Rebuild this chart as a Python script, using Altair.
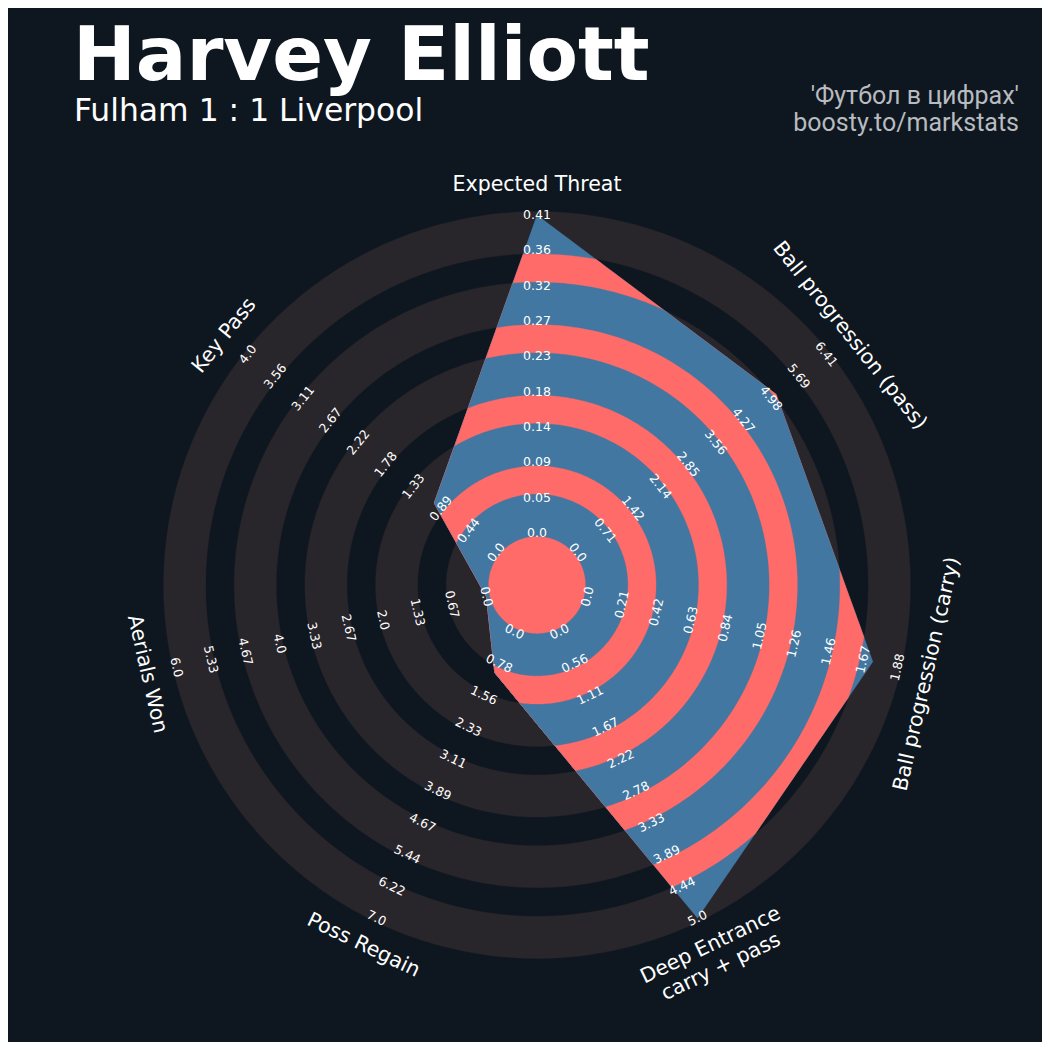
import math
import numpy as np
import pandas as pd
import altair as alt

# ---------------- data ----------------
params = ["Expected Threat", "Ball progression (pass)", "Ball progression (carry)",
          "Deep Entrance\ncarry + pass", "Poss Regain", "Aerials Won", "Key Pass"]
low = [0.0, 0.0, 0.0, 0.0, 0.0, 0.0, 0.0]
high = [0.41, 6.41, 1.88, 5.0, 7.0, 6.0, 4.0]
values = [0.41, 5.12, 1.73, 5.0, 1.0, 0.0, 1.0]

labels_xt = ["0.0", "0.05", "0.09", "0.14", "0.18", "0.23", "0.27", "0.32", "0.36", "0.41"]
labels_pass = ["0.0", "0.71", "1.42", "2.14", "2.85", "3.56", "4.27", "4.98", "5.69", "6.41"]
labels_carry = ["0.0", "0.21", "0.42", "0.63", "0.84", "1.05", "1.26", "1.46", "1.67", "1.88"]
labels_deep = ["0.0", "0.56", "1.11", "1.67", "2.22", "2.78", "3.33", "3.89", "4.44", "5.0"]
labels_regain = ["0.0", "0.78", "1.56", "2.33", "3.11", "3.89", "4.67", "5.44", "6.22", "7.0"]
labels_aerial = ["0.0", "0.67", "1.33", "2.0", "2.67", "3.33", "4.0", "4.67", "5.33", "6.0"]
labels_key = ["0.0", "0.44", "0.89", "1.33", "1.78", "2.22", "2.67", "3.11", "3.56", "4.0"]
ring_labels = [labels_xt, labels_pass, labels_carry, labels_deep,
               labels_regain, labels_aerial, labels_key]

title_text = "Harvey Elliott"
subtitle_text = "Fulham 1 : 1 Liverpool"
credit_line1 = "'Футбол в цифрах'"
credit_line2 = "boosty.to/markstats"

# ---------------- style / geometry ----------------
BG = "#0e1720"
RING = "#28252b"
RED = "#ff6b68"
BLUE = "#4177a0"
TXT = "#ffffff"
CREDIT = "#b8bbbf"

W = H = 1034
PX = 35.33            # pixels per radar unit
CX, CY = 529.0, 577.0  # radar centre inside plot area (pixels)
CENTER_R = 1.47
RING_W = 1.0
N_RINGS = 9
EDGE = 0.1
LABEL_R = CENTER_R + N_RINGS * RING_W + 0.85

xdom = [-CX / PX, (W - CX) / PX]
ydom = [-(H - CY) / PX, CY / PX]

n = len(params)
STEP = 360.0 / n
phi = [STEP * k for k in range(n)]


def xy(r, ang):
    a = math.radians(ang)
    return r * math.sin(a), r * math.cos(a)


rho = [CENTER_R + N_RINGS * RING_W * (v - lo) / (hi - lo)
       for v, lo, hi in zip(values, low, high)]
verts = [xy(r, a) for r, a in zip(rho, phi)]


def cross(a, b):
    return a[0] * b[1] - a[1] * b[0]


def poly_radius(theta):
    theta = theta % 360.0
    k = int(theta // STEP) % n
    P = verts[k]
    Q = verts[(k + 1) % n]
    E = (Q[0] - P[0], Q[1] - P[1])
    d = xy(1.0, theta)
    return cross(P, E) / cross(d, E)


bounds = [CENTER_R + i * RING_W for i in range(N_RINGS + 1)]
disks = []
for i in range(N_RINGS, -1, -1):
    wide = (i % 2 == 1)
    disks.append((bounds[i] + EDGE if wide else bounds[i] - EDGE, wide))

rows = []
layer_colors = []
sid = 0
circle_thetas = np.arange(0.0, 360.0, 1.0)
for R, wide in disks:
    for j, t in enumerate(circle_thetas):
        x, y = xy(R, float(t))
        rows.append((sid, j, round(x, 4), round(y, 4)))
    layer_colors.append(RING if wide else BG)
    sid += 1

base_thetas = sorted(set([round(float(t), 6) for t in np.arange(0.0, 360.0, 1.0)] +
                         [round(a, 6) for a in phi]))
for R, wide in disks:
    th = []
    nxt = base_thetas[1:] + [360.0]
    for a, b in zip(base_thetas, nxt):
        th.append(a)
        fa = poly_radius(a) - R
        fb = poly_radius(b) - R
        if fa * fb < 0:
            lo_, hi_ = a, b
            for _ in range(40):
                m = 0.5 * (lo_ + hi_)
                fm = poly_radius(m) - R
                if (fm > 0) == (fa > 0):
                    lo_ = m
                else:
                    hi_ = m
            th.append(0.5 * (lo_ + hi_))
    for j, t in enumerate(th):
        r = min(R, poly_radius(t))
        x, y = xy(r, t)
        rows.append((sid, j, round(x, 4), round(y, 4)))
    layer_colors.append(BLUE if wide else RED)
    sid += 1

shapes = pd.DataFrame(rows, columns=["s", "i", "x", "y"])

X = alt.X("x:Q", scale=alt.Scale(domain=xdom, nice=False, zero=False), axis=None)
Y = alt.Y("y:Q", scale=alt.Scale(domain=ydom, nice=False, zero=False), axis=None)

base = alt.Chart(shapes)
layers = []
for s, col in enumerate(layer_colors):
    layers.append(
        base.transform_filter(alt.datum.s == s)
        .mark_line(interpolate="linear-closed", fill=col, stroke=col, strokeWidth=0.3)
        .encode(x=X, y=Y, order="i:Q")
    )

# ring labels
lab_rows = []
for k in range(n):
    ang = phi[k]
    rot = ang if (ang <= 90 or ang >= 270) else ang - 180
    rot = rot % 360
    for i, txt in enumerate(ring_labels[k]):
        x, y = xy(CENTER_R + i * RING_W, ang)
        lab_rows.append(dict(x=x, y=y, text=txt, rot=rot))
ring_df = pd.DataFrame(lab_rows)

layers.append(
    alt.Chart(ring_df).mark_text(font="DejaVu Sans", fontSize=12.5, color=TXT,
                                 align="center", baseline="middle")
    .encode(x=X, y=Y, text="text:N", angle=alt.Angle("rot:Q", scale=None))
)

par_rows = []
for k in range(n):
    ang = phi[k]
    rot = ang if (ang <= 90 or ang >= 270) else ang - 180
    rot = rot % 360
    x, y = xy(LABEL_R, ang)
    par_rows.append(dict(x=x, y=y, text=params[k], rot=rot))
par_df = pd.DataFrame(par_rows)

layers.append(
    alt.Chart(par_df).mark_text(font="DejaVu Sans", fontSize=20.5, color=TXT,
                                align="center", baseline="middle", lineBreak="\n",
                                lineHeight=24)
    .encode(x=X, y=Y, text="text:N", angle=alt.Angle("rot:Q", scale=None))
)


def fixed_text(txt, px, py, **kw):
    return (alt.Chart(pd.DataFrame({"t": [txt]}))
            .mark_text(**kw)
            .encode(x=alt.value(px), y=alt.value(py), text="t:N"))


layers.append(fixed_text(title_text, 65, 72, font="DejaVu Sans", fontSize=75,
                         fontWeight="bold", color=TXT, align="left", baseline="alphabetic"))
layers.append(fixed_text(subtitle_text, 66, 113, font="DejaVu Sans", fontSize=31.4,
                         color=TXT, align="left", baseline="alphabetic"))
layers.append(fixed_text(credit_line1, 1011, 96, font="Roboto", fontSize=25,
                         color=CREDIT, align="right", baseline="alphabetic"))
layers.append(fixed_text(credit_line2, 1011, 123, font="Roboto", fontSize=25,
                         color=CREDIT, align="right", baseline="alphabetic"))

chart = (
    alt.layer(*layers)
    .properties(width=W, height=H, background=BG, padding=0,
                autosize=alt.AutoSizeParams(type="none"))
    .configure_view(strokeWidth=0)
)

chart.save("out.html", embed_options={"renderer": "svg", "actions": False})
